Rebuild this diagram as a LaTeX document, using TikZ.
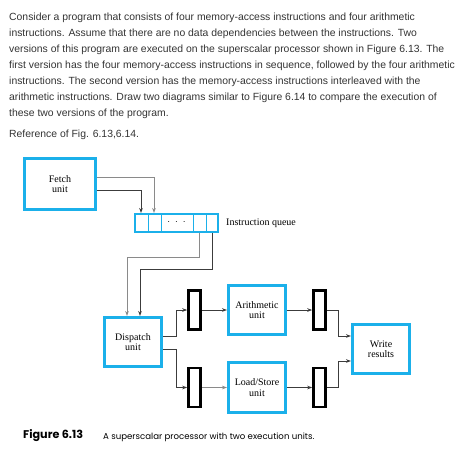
\documentclass[tikz,border=0pt]{standalone}
\usepackage{fontspec}
\setmainfont{Liberation Serif}
\newfontfamily\parafont{Liberation Sans}
\newfontfamily\capfont{Poppins}
\usetikzlibrary{arrows.meta,calc}
\definecolor{boxcyan}{HTML}{1BB0EA}
\definecolor{linedark}{HTML}{3C3C3C}
\definecolor{linegray}{HTML}{8A8A8A}
\definecolor{paragray}{HTML}{333333}
\tikzset{
  unitbox/.style={draw=boxcyan, line width=3pt, fill=white, minimum width=57pt, minimum height=49pt, inner sep=0pt, align=center, font=\fontsize{10}{10.5}\selectfont},
  bufbox/.style={draw=black, line width=2.6pt, fill=white, minimum width=12pt, minimum height=39pt, inner sep=0pt},
  qbox/.style={draw=boxcyan, line width=2pt, fill=white, minimum width=83pt, minimum height=18pt, inner sep=0pt},
  qdiv/.style={draw=boxcyan, line width=0.6pt},
  cdark/.style={draw=linedark, line width=0.8pt, -{Stealth[length=5pt,width=3.6pt]}},
  cgray/.style={draw=linegray, line width=0.8pt, -{Stealth[length=5pt,width=3.6pt]}},
  paraline/.style={anchor=west, inner sep=0pt, text=paragray, font=\parafont\fontsize{10.4}{12}\selectfont},
}
\begin{document}
\begin{tikzpicture}[x=1pt,y=-1pt]
\useasboundingbox (0,0) rectangle (470,456);
% paragraph
\node[paraline] (p1) at (9,18) {Consider a program that consists of four memory-access instructions and four arithmetic};
\node[paraline] (p2) at (9,34) {instructions. Assume that there are no data dependencies between the instructions. Two};
\node[paraline] (p3) at (9,50) {versions of this program are executed on the superscalar processor shown in Figure 6.13. The};
\node[paraline] (p4) at (9,66) {first version has the four memory-access instructions in sequence, followed by the four arithmetic};
\node[paraline] (p5) at (9,82) {instructions. The second version has the memory-access instructions interleaved with the};
\node[paraline] (p6) at (9,98) {arithmetic instructions. Draw two diagrams similar to Figure 6.14 to compare the execution of};
\node[paraline] (p7) at (9,114) {these two versions of the program.};
\node[paraline] (p8) at (9,135) {Reference of Fig. 6.13,6.14.};
% units
\node[unitbox, minimum width=71pt, minimum height=51pt] (fetch) at (60,184) {Fetch\\unit};
\node[qbox] (queue) at (176.5,223) {};
\draw[qdiv] ([xshift=-28.5pt]queue.north) -- ([xshift=-28.5pt]queue.south);
\draw[qdiv] ([xshift=-15.5pt]queue.north) -- ([xshift=-15.5pt]queue.south);
\draw[qdiv] ([xshift=16.5pt]queue.north) -- ([xshift=16.5pt]queue.south);
\draw[qdiv] ([xshift=29.5pt]queue.north) -- ([xshift=29.5pt]queue.south);
\node[inner sep=0pt, text=black, font=\fontsize{10}{10}\selectfont] (qdots) at (176.5,222) {$\cdot\;\cdot\;\cdot$};
\node[anchor=west, inner sep=0pt, font=\fontsize{10}{10}\selectfont] (qlabel) at (226,223) {Instruction queue};
\node[unitbox] (dispatch) at (133,342) {Dispatch\\unit};
\node[bufbox] (bufA) at (194.5,310) {};
\node[bufbox] (bufB) at (194.5,387.5) {};
\node[unitbox] (arith) at (257,310) {Arithmetic\\unit};
\node[unitbox, minimum height=50pt] (ls) at (257,387.5) {Load/Store\\unit};
\node[bufbox] (bufC) at (319.5,310) {};
\node[bufbox] (bufD) at (319.5,387.5) {};
\node[unitbox] (write) at (381,349) {Write\\results};
% connectors
\draw[cgray] ([yshift=7pt]fetch.east) -| ([xshift=-22.5pt]queue.north);
\draw[cdark] ([yshift=-6pt]fetch.east) -| ([xshift=-35.5pt]queue.north);
\draw[cgray] ([xshift=22.5pt]queue.south) -- ++(0,24) -| ([xshift=-6pt]dispatch.north);
\draw[cdark] ([xshift=35.5pt]queue.south) -- ++(0,36) -| ([xshift=7pt]dispatch.north);
\draw[cdark] ([yshift=6pt]dispatch.east) -- ++(13,0) |- (bufA.west);
\draw[cdark] ([yshift=-7pt]dispatch.east) -- ++(13,0) |- (bufB.west);
\draw[cdark] (bufA.east) -- (arith.west);
\draw[cgray] (bufB.east) -- (ls.west);
\draw[cdark] (arith.east) -- (bufC.west);
\draw[cdark] (ls.east) -- (bufD.west);
\draw[cdark] (bufC.east) -- ++(12,0) |- ([yshift=13pt]write.west);
\draw[cdark] (bufD.east) -- ++(12,0) |- ([yshift=-12pt]write.west);
% caption
\node[anchor=west, inner sep=0pt, font=\capfont\bfseries\fontsize{11.2}{12}\selectfont] (figno) at (23,436) {Figure 6.13};
\node[anchor=west, inner sep=0pt, font=\capfont\fontsize{8.6}{10}\selectfont] (caption) at (103,437) {A superscalar processor with two execution units.};
\end{tikzpicture}
\end{document}
